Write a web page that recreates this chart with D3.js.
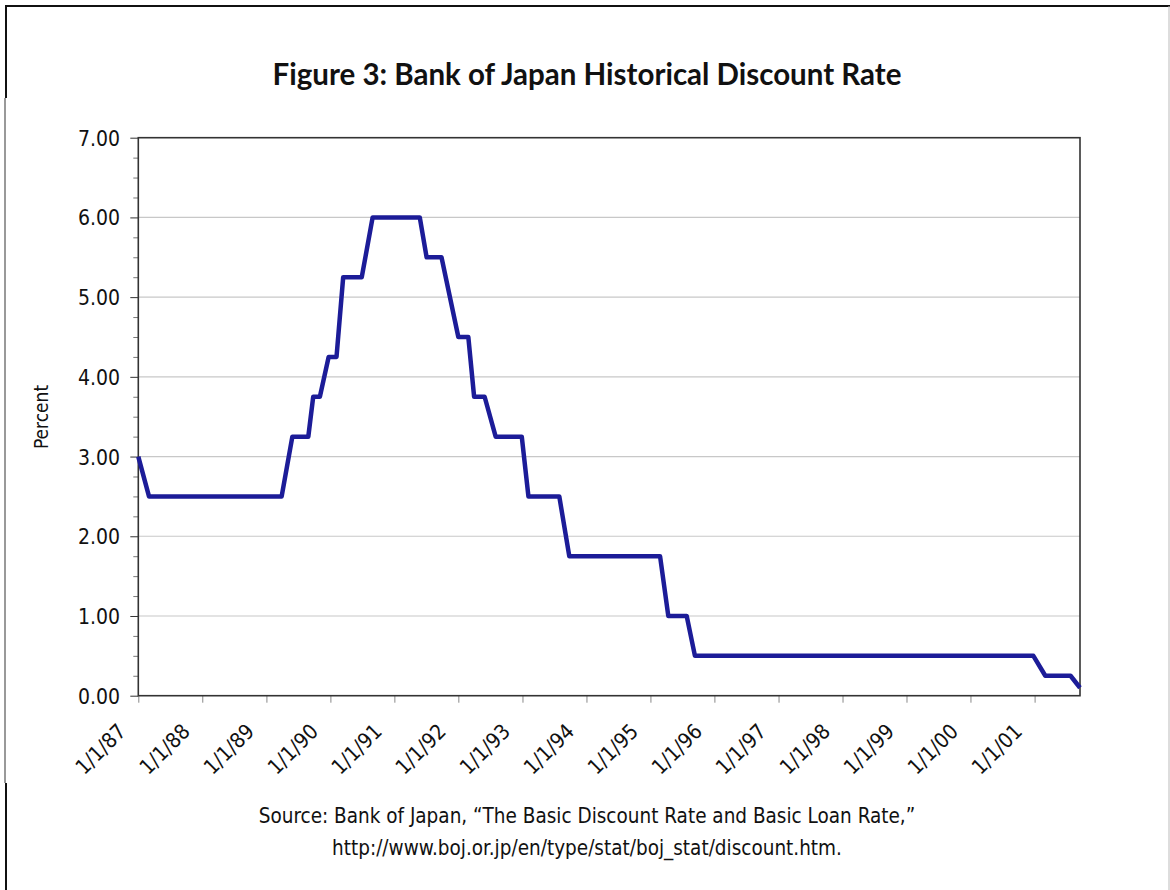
<!DOCTYPE html>
<html>
<head>
<meta charset="utf-8">
<script src="https://cdn.jsdelivr.net/npm/d3@7"></script>
<style>
  body { margin: 0; background: #fff; }
  text { fill: #111; }
  .title { font-family: Lato, "Open Sans", sans-serif; font-weight: bold; font-size: 29.5px; }
  .tick-label { font-family: "Liberation Sans Narrow", "DejaVu Sans Condensed", sans-serif; font-size: 21px; }
  .axis-title { font-family: "Liberation Sans Narrow", "DejaVu Sans Condensed", sans-serif; font-size: 19px; }
  .source { font-family: "Liberation Sans Narrow", "DejaVu Sans Condensed", sans-serif; font-size: 20.5px; }
</style>
</head>
<body>
<div id="chart"></div>
<script>
var width = 1170, height = 890;

// vertices of the discount-rate line
var dates = ['1987-01-01', '1987-03-03', '1989-03-29', '1989-05-29', '1989-08-28', '1989-09-25',
    '1989-11-02', '1989-12-22', '1990-02-05', '1990-03-15', '1990-06-29', '1990-08-30',
    '1991-05-26', '1991-07-04', '1991-09-27', '1992-01-01', '1992-02-27', '1992-03-31',
    '1992-05-30', '1992-08-01', '1992-12-28', '1993-02-04', '1993-07-30', '1993-09-25',
    '1995-02-25', '1995-04-13', '1995-07-27', '1995-09-12', '2000-12-25', '2001-03-03',
    '2001-07-25', '2001-09-17'];
var rates = [3.00, 2.50, 2.50, 3.25, 3.25, 3.75,
    3.75, 4.25, 4.25, 5.25, 5.25, 6.00,
    6.00, 5.50, 5.50, 4.50, 4.50, 3.75,
    3.75, 3.25, 3.25, 2.50, 2.50, 1.75,
    1.75, 1.00, 1.00, 0.50, 0.50, 0.25,
    0.25, 0.10];
var yearTicks = ['1987-01-01', '1988-01-01', '1989-01-01', '1990-01-01', '1991-01-01', '1992-01-01',
    '1993-01-01', '1994-01-01', '1995-01-01', '1996-01-01', '1997-01-01', '1998-01-01',
    '1999-01-01', '2000-01-01', '2001-01-01'];
var tickLabels = ['1/1/87', '1/1/88', '1/1/89', '1/1/90', '1/1/91', '1/1/92', '1/1/93', '1/1/94',
    '1/1/95', '1/1/96', '1/1/97', '1/1/98', '1/1/99', '1/1/00', '1/1/01'];
var yTicks = [0, 1, 2, 3, 4, 5, 6, 7];

var parse = d3.timeParse('%Y-%m-%d');
var data = dates.map(function (d, i) { return { date: parse(d), rate: rates[i] }; });

var svg = d3.select('#chart').append('svg')
    .attr('width', width)
    .attr('height', height);

// scanned frame around the figure
var frame = svg.append('g');
frame.append('line').attr('x1', 5).attr('x2', 1170).attr('y1', 6).attr('y2', 6)
    .attr('stroke', '#111').attr('stroke-width', 2);
frame.append('line').attr('x1', 6).attr('x2', 6).attr('y1', 5).attr('y2', 98)
    .attr('stroke', '#111').attr('stroke-width', 2);
frame.append('line').attr('x1', 5).attr('x2', 5).attr('y1', 98).attr('y2', 783)
    .attr('stroke', '#555').attr('stroke-width', 1.2);
frame.append('line').attr('x1', 6).attr('x2', 6).attr('y1', 783).attr('y2', 890)
    .attr('stroke', '#111').attr('stroke-width', 2);
frame.append('line').attr('x1', 1169).attr('x2', 1169).attr('y1', 6).attr('y2', 890)
    .attr('stroke', '#bbb').attr('stroke-width', 1);

var plotLeft = 138.3, plotRight = 1080, plotTop = 137.7, plotBottom = 695.7;

var x = d3.scaleTime()
    .domain([parse('1987-01-01'), parse('2001-09-17')])
    .range([plotLeft, plotRight]);

var y = d3.scaleLinear()
    .domain([0, 7])
    .range([plotBottom, plotTop]);

// gridlines
svg.append('g')
    .selectAll('line')
    .data(yTicks.slice(1, -1))
    .enter().append('line')
    .attr('x1', plotLeft).attr('x2', plotRight)
    .attr('y1', function (d) { return y(d); })
    .attr('y2', function (d) { return y(d); })
    .attr('stroke', '#c8c8c8')
    .attr('stroke-width', 1.2);

// y axis with minor ticks every 0.25
var yAxis = svg.append('g')
    .attr('transform', 'translate(' + plotLeft + ',0)')
    .call(d3.axisLeft(y).tickValues(d3.range(0, 7.01, 0.25)).tickSize(5).tickFormat(''));
yAxis.select('.domain').remove();
yAxis.selectAll('.tick line').attr('stroke', '#777');
yAxis.selectAll('.tick').filter(function (d) { return Math.abs(d % 1) < 1e-9; })
    .select('line').attr('x2', -8).attr('stroke', '#333');

svg.append('g')
    .selectAll('text')
    .data(yTicks)
    .enter().append('text')
    .attr('class', 'tick-label')
    .attr('x', 120)
    .attr('y', function (d) { return y(d) + 8; })
    .attr('text-anchor', 'end')
    .text(function (d) { return d.toFixed(2); });

// x axis
var xAxis = svg.append('g')
    .attr('transform', 'translate(0,' + plotBottom + ')')
    .call(d3.axisBottom(x).tickValues(yearTicks.map(parse)).tickSize(7).tickFormat(''));
xAxis.select('.domain').remove();
xAxis.selectAll('.tick line').attr('stroke', '#888');

svg.append('g')
    .selectAll('text')
    .data(yearTicks)
    .enter().append('text')
    .attr('class', 'tick-label')
    .attr('text-anchor', 'end')
    .attr('transform', function (d) {
        return 'translate(' + (x(parse(d)) - 11) + ',' + (plotBottom + 37) + ') rotate(-45)';
    })
    .text(function (d, i) { return tickLabels[i]; });

// plot border
svg.append('rect')
    .attr('x', plotLeft).attr('y', plotTop)
    .attr('width', plotRight - plotLeft).attr('height', plotBottom - plotTop)
    .attr('fill', 'none')
    .attr('stroke', '#333')
    .attr('stroke-width', 1.6);

// the rate line
var line = d3.line()
    .x(function (d) { return x(d.date); })
    .y(function (d) { return y(d.rate); });

svg.append('path')
    .datum(data)
    .attr('d', line)
    .attr('fill', 'none')
    .attr('stroke', '#1c1c98')
    .attr('stroke-width', 4.5)
    .attr('stroke-linejoin', 'round');

svg.append('text')
    .attr('class', 'title')
    .attr('x', 587).attr('y', 85)
    .attr('text-anchor', 'middle')
    .text('Figure 3: Bank of Japan Historical Discount Rate');

svg.append('text')
    .attr('class', 'axis-title')
    .attr('transform', 'translate(48,417) rotate(-90)')
    .attr('text-anchor', 'middle')
    .text('Percent');

svg.append('text')
    .attr('class', 'source')
    .attr('x', 587).attr('y', 823)
    .attr('text-anchor', 'middle')
    .text('Source: Bank of Japan, \u201cThe Basic Discount Rate and Basic Loan Rate,\u201d');
svg.append('text')
    .attr('class', 'source')
    .attr('x', 587).attr('y', 855)
    .attr('text-anchor', 'middle')
    .text('http://www.boj.or.jp/en/type/stat/boj_stat/discount.htm.');
</script>
</body>
</html>
